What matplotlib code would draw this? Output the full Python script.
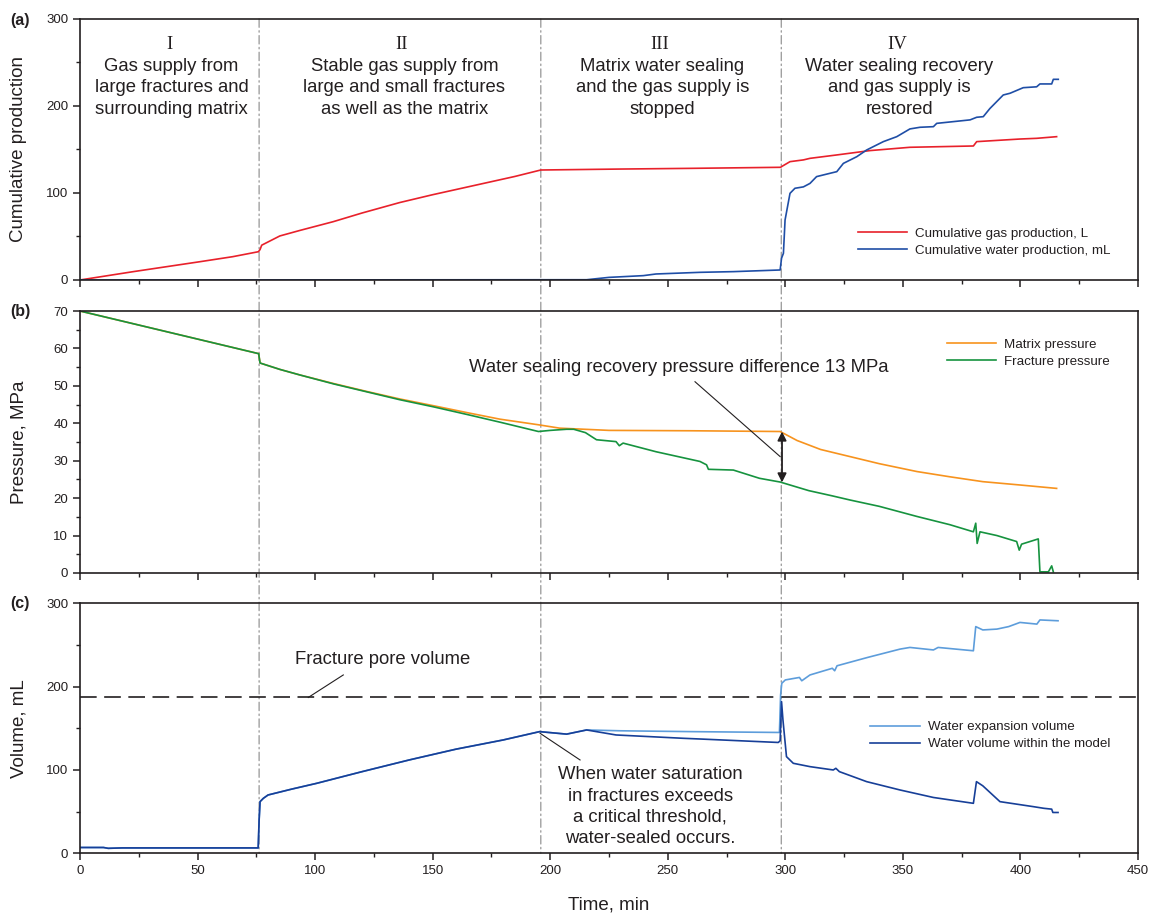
import matplotlib
matplotlib.use('Agg')
import matplotlib.pyplot as plt
from matplotlib.ticker import MultipleLocator
from matplotlib.patches import ConnectionPatch

plt.rcParams['font.family'] = ['Liberation Sans', 'DejaVu Sans']
ink = '#231f20'
plt.rcParams['text.color'] = ink
plt.rcParams['axes.labelcolor'] = ink
plt.rcParams['axes.edgecolor'] = ink
plt.rcParams['xtick.color'] = ink
plt.rcParams['ytick.color'] = ink

# (a) cumulative production
t_gas = [0, 22.7, 51, 65, 75.9, 76.6, 77.3, 79.4, 85, 93.6, 107.7, 120, 136, 150, 170, 185, 196,
         230, 260, 298, 298.4, 302, 307.7, 310.5, 321.9, 336, 353, 380, 381.4, 399.8, 406.9, 415.4]
gas_L = [0, 9.6, 21, 26.8, 32.5, 35, 40, 42.9, 50.6, 57, 67, 77, 89, 98, 110, 119, 126.4,
         127.5, 128.3, 129.5, 130.3, 136, 138, 139.8, 143.7, 148.7, 152.5, 154, 159, 162, 162.8, 164.7]

t_wat = [0, 215.5, 225, 239.6, 245, 263.7, 277.9, 297.8, 298.4, 299.2, 299.9, 302, 304.1, 307.7,
         310.5, 313.3, 319, 321.9, 324.7, 330.4, 334.6, 341.7, 347.4, 353, 357.3, 363, 364.4,
         378.6, 381.4, 384.2, 387, 392.7, 395.6, 401.2, 406.9, 408.3, 413.3, 414, 416.1]
wat_mL = [0, 0.3, 3, 5, 6.9, 8.8, 9.6, 11.5, 25, 30.7, 69, 99.6, 105.4, 107,
          111, 118.8, 122.6, 124.5, 134, 141.7, 149.4, 159, 164.7, 173.6, 175.5, 176.2, 180,
          184, 187, 187.7, 197, 212.6, 214.6, 221, 222, 225.3, 225.3, 230.6, 230.6]

# (b) pressure
t_pm = [0, 76, 76.6, 85, 93.6, 108, 122, 136, 150.3, 165, 178.6, 195, 204, 225, 260, 297.8,
        305, 315, 327.5, 340, 356, 370, 384, 400, 415.4]
p_matrix = [70, 58.6, 56.1, 54.4, 52.9, 50.6, 48.5, 46.5, 44.7, 42.8, 41.1, 39.6, 38.7, 38.1,
            38.0, 37.8, 35.4, 33.0, 31.1, 29.2, 27.1, 25.7, 24.4, 23.5, 22.6]

t_pf = [0, 76, 76.6, 85, 93.6, 108, 122, 136, 150.3, 165, 178.6, 195, 200, 207, 210, 215, 219.7,
        228, 229.4, 231, 245, 263.7, 266.5, 267.3, 277.9, 289, 297.8, 310, 320, 327.5, 340, 356,
        370, 380, 381, 381.6, 382.8, 390, 398.4, 399.5, 400.5, 407.6, 408.3, 411.9, 413.3, 414]
p_fracture = [70, 58.6, 56.1, 54.4, 52.9, 50.5, 48.4, 46.3, 44.4, 42.3, 40.3, 37.8, 38.1, 38.4,
              38.4, 37.5, 35.6, 35.1, 34, 34.7, 32.4, 29.8, 28.9, 27.7, 27.5, 25.3, 24.3, 22,
              20.6, 19.5, 17.8, 15.1, 12.9, 11, 13.3, 7.9, 11, 10, 8.4, 6.1, 7.7, 9.1, 0.3, 0.3,
              1.9, 0.3]

# (c) water volumes
t_v0 = [0, 10, 12, 18, 30, 60, 75.8, 76.2, 76.6, 78, 80, 90, 100.7, 120, 140, 160, 180, 195.5]
v_0 = [7, 7, 6, 6.5, 6.5, 6.5, 6.5, 40, 62, 66, 70, 77, 84, 98, 112, 125, 136, 146]

t_exp = [207, 212, 215.5, 230, 260, 297.5, 298, 298.5, 300, 306, 307, 309, 310.5, 320, 321, 322,
         335, 348.8, 353, 363, 365, 380, 381, 384, 390, 395, 399.8, 407, 408.3, 416]
v_exp = [143, 146, 148, 147, 146, 145, 190, 204, 208, 211, 207, 211, 214, 222, 219, 225,
         235, 245, 247, 244, 247, 243, 272, 268, 269, 272, 277, 275, 280, 279]

t_in = [207, 215.5, 228, 256.6, 265, 297, 297.8, 298.4, 299, 300.5, 303.4, 310.5, 320.4, 321.5,
        323, 334.6, 348.8, 363, 380, 381.3, 384, 391.3, 405.5, 410, 413.3, 413.8, 416]
v_in = [143, 148, 142, 138, 137, 133, 135, 182, 160, 116, 108, 104, 100, 102, 98, 86, 76, 67,
        60, 86, 81, 62, 56, 54, 53, 49, 49]

stage_x = [76.2, 196, 298.3]
pore_volume = 187
phase_x = [38, 137, 246.7, 347.5]
phase_num = ['I', 'II', 'III', 'IV']
phase_txt = ['Gas supply from\nlarge fractures and\nsurrounding matrix',
             'Stable gas supply from\nlarge and small fractures\nas well as the matrix',
             'Matrix water sealing\nand the gas supply is\nstopped',
             'Water sealing recovery\nand gas supply is\nrestored']

fig = plt.figure(figsize=(11.49, 9.15), dpi=100)
L, W = 0.0696, 0.9208
ax1 = fig.add_axes([L, 0.694, W, 0.2853])
ax2 = fig.add_axes([L, 0.3738, W, 0.2863])
ax3 = fig.add_axes([L, 0.0674, W, 0.2733])

lw = 1.2
ax1.plot(t_gas, gas_L, color='#e8212b', lw=lw, label='Cumulative gas production, L')
ax1.plot(t_wat, wat_mL, color='#1f4ea6', lw=lw, label='Cumulative water production, mL')

ax2.plot(t_pm, p_matrix, color='#f7931e', lw=lw, label='Matrix pressure')
ax2.plot(t_pf, p_fracture, color='#16933f', lw=lw, label='Fracture pressure')

ax3.axhline(pore_volume, color=ink, lw=1.2, ls=(0, (10, 4.5)))
ax3.plot(t_v0 + t_exp, v_0 + v_exp, color='#5d9ddb', lw=lw, label='Water expansion volume')
ax3.plot(t_v0 + t_in, v_0 + v_in, color='#173f98', lw=lw, label='Water volume within the model')

for ax, top, major, minor in [(ax1, 300, 100, 50), (ax2, 70, 10, 5), (ax3, 300, 100, 50)]:
    ax.patch.set_visible(False)
    ax.set_xlim(0, 450)
    ax.set_ylim(0, top)
    ax.xaxis.set_major_locator(MultipleLocator(50))
    ax.xaxis.set_minor_locator(MultipleLocator(25))
    ax.yaxis.set_major_locator(MultipleLocator(major))
    ax.yaxis.set_minor_locator(MultipleLocator(minor))
    ax.tick_params(which='major', direction='out', length=5, width=1.1, labelsize=9.5)
    ax.tick_params(which='minor', direction='out', length=3, width=1.0)
    for s in ax.spines.values():
        s.set_linewidth(1.2)
    ax.yaxis.set_label_coords(-0.05, 0.5)
    ax.legend(frameon=False, fontsize=9.6, handlelength=3.7, borderpad=0, borderaxespad=0,
              labelspacing=0.35, handletextpad=0.6, loc='upper left')

ax1.tick_params(labelbottom=False)
ax2.tick_params(labelbottom=False)
ax1.legend_.set_bbox_to_anchor((0.735, 0.2))
ax2.legend_.set_bbox_to_anchor((0.8195, 0.895))
ax3.legend_.set_bbox_to_anchor((0.747, 0.529))

ax1.set_ylabel('Cumulative production', fontsize=13.5)
ax2.set_ylabel('Pressure, MPa', fontsize=13.5)
ax3.set_ylabel('Volume, mL', fontsize=13.5)
ax3.set_xlabel('Time, min', fontsize=13.5, labelpad=14)

# stage boundaries run through all three panels, behind the curves
for x in stage_x:
    con = ConnectionPatch(xyA=(x, 300), coordsA=ax1.transData, xyB=(x, 0), coordsB=ax3.transData,
                          color='#a0a0a0', lw=1.0, ls=(0, (6, 2.5, 1, 2.5)), zorder=-1)
    fig.add_artist(con)

for x, n, s in zip(phase_x, phase_num, phase_txt):
    ax1.text(x, 271, n, family=['Liberation Serif', 'DejaVu Serif'], fontsize=13.5,
             ha='center', va='center')
    ax1.text(x + 1, 255, s, fontsize=13.3, ha='center', va='top', linespacing=1.33)

ax2.annotate('', xy=(298.6, 24.2), xytext=(298.6, 37.8),
             arrowprops=dict(arrowstyle='<|-|>', color=ink, lw=1.3, mutation_scale=13,
                             shrinkA=0, shrinkB=0))
ax2.plot([261.6, 297.8], [51.1, 31.1], color=ink, lw=0.8)
ax2.text(254.8, 54.8, 'Water sealing recovery pressure difference 13 MPa', fontsize=13.3,
         ha='center', va='center')

ax3.plot([112, 97.1], [214, 187], color=ink, lw=0.8)
ax3.text(91.5, 233, 'Fracture pore volume', fontsize=13.3, ha='left', va='center')
ax3.plot([195.7, 212.7], [144, 112], color=ink, lw=0.8)
ax3.text(242.5, 56, 'When water saturation\nin fractures exceeds\na critical threshold,\nwater-sealed occurs.',
         fontsize=13.3, ha='center', va='center', linespacing=1.33)

for lab, y in [('(a)', 0.978), ('(b)', 0.66), ('(c)', 0.34)]:
    fig.text(0.009, y, lab, fontsize=11.5, fontweight='bold', va='center')

fig.savefig('out.png', dpi=100, facecolor='white')
